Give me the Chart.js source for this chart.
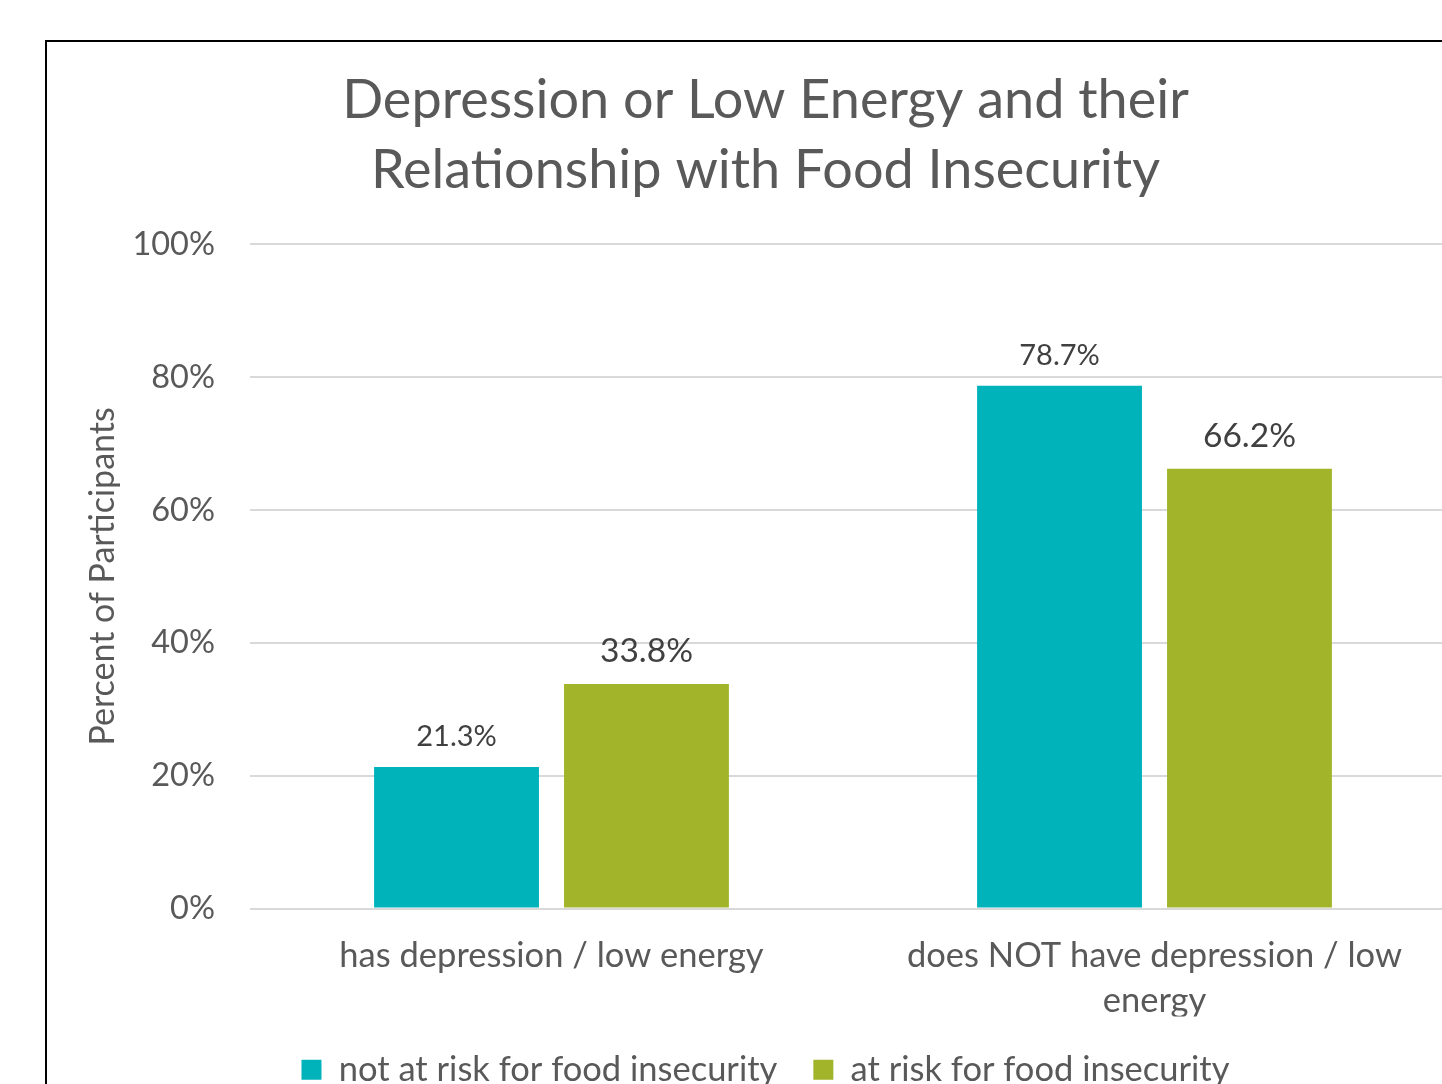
<!DOCTYPE html>
<html>
<head>
<meta charset="utf-8">
<script src="https://cdn.jsdelivr.net/npm/chart.js@4"></script>
<style>
    html, body { margin: 0; padding: 0; background: #fff; overflow: hidden; width: 1442px; height: 1084px; }
    #marco { position: absolute; left: 45px; top: 40px; width: 1500px; height: 1120px; border: 2px solid #000; background: #fff; }
    canvas { display: block; }
</style>
</head>
<body>
<div id="marco">
    <canvas id="grafico" width="1437" height="1080"></canvas>
</div>
<script>
// Datos
const categorias = [
    "has depression / low energy",
    ["does NOT have depression / low", "energy"]
];
const noEnRiesgo = [21.3, 78.7];
const enRiesgo = [33.8, 66.2];
const nombresSeries = ["not at risk for food insecurity", "at risk for food insecurity"];
const marcasY = [0, 20, 40, 60, 80, 100];

const fuente = "Lato, 'Open Sans', sans-serif";
const gris = "#595959";

// Etiquetas encima de cada barra (tamaño distinto por serie)
const tamEtiqueta = [29, 33.5];
const separacion = [30, 33];
const etiquetasBarras = {
    id: "etiquetasBarras",
    afterDatasetsDraw(chart) {
        const ctx = chart.ctx;
        chart.data.datasets.forEach((ds, i) => {
            chart.getDatasetMeta(i).data.forEach((barra, j) => {
                ctx.save();
                ctx.font = tamEtiqueta[i] + "px " + fuente;
                ctx.fillStyle = "#404040";
                ctx.textAlign = "center";
                ctx.textBaseline = "middle";
                ctx.fillText(ds.data[j].toFixed(1) + "%", barra.x, barra.y - separacion[i]);
                ctx.restore();
            });
        });
    }
};

new Chart(document.getElementById("grafico").getContext("2d"), {
    type: "bar",
    data: {
        labels: categorias,
        datasets: [
            { label: nombresSeries[0], data: noEnRiesgo, backgroundColor: "#00B3BB" },
            { label: nombresSeries[1], data: enRiesgo, backgroundColor: "#A2B52A" }
        ]
    },
    options: {
        responsive: false,
        animation: false,
        layout: { padding: { left: 0, right: 0, top: 0, bottom: 25 } },
        datasets: { bar: { categoryPercentage: 0.63, barPercentage: 0.868 } },
        plugins: {
            title: {
                display: true,
                text: ["Depression or Low Energy and their", "Relationship with Food Insecurity"],
                color: gris,
                font: { family: fuente, size: 54, weight: "normal", lineHeight: 1.3 },
                padding: { top: 23, bottom: 39 }
            },
            legend: {
                position: "bottom",
                labels: {
                    color: gris,
                    font: { family: fuente, size: 34.5 },
                    boxWidth: 20,
                    boxHeight: 20,
                    padding: 36
                }
            },
            tooltip: { enabled: false }
        },
        scales: {
            x: {
                grid: { display: false },
                border: { display: false },
                ticks: { color: gris, font: { family: fuente, size: 34.5, lineHeight: 1.3 }, padding: 17, maxRotation: 0 },
                afterFit(scale) { scale.height = 108; }
            },
            y: {
                min: 0,
                max: 100,
                afterBuildTicks(scale) { scale.ticks = marcasY.map(v => ({ value: v })); },
                ticks: { color: gris, font: { family: fuente, size: 32.5 }, padding: 35, callback: v => v + "%" },
                grid: { color: "#d9d9d9", lineWidth: 2, drawTicks: false },
                border: { display: false },
                title: {
                    display: true,
                    text: "Percent of Participants",
                    color: gris,
                    font: { family: fuente, size: 34 },
                    padding: { top: 35.6, bottom: 0 }
                },
                afterFit(scale) { scale.width = 203; }
            },
            derecha: {
                type: "linear",
                position: "right",
                grid: { display: false },
                border: { display: false },
                ticks: { display: false },
                afterFit(scale) { scale.width = 28; }
            }
        }
    },
    plugins: [etiquetasBarras]
});
</script>
</body>
</html>
